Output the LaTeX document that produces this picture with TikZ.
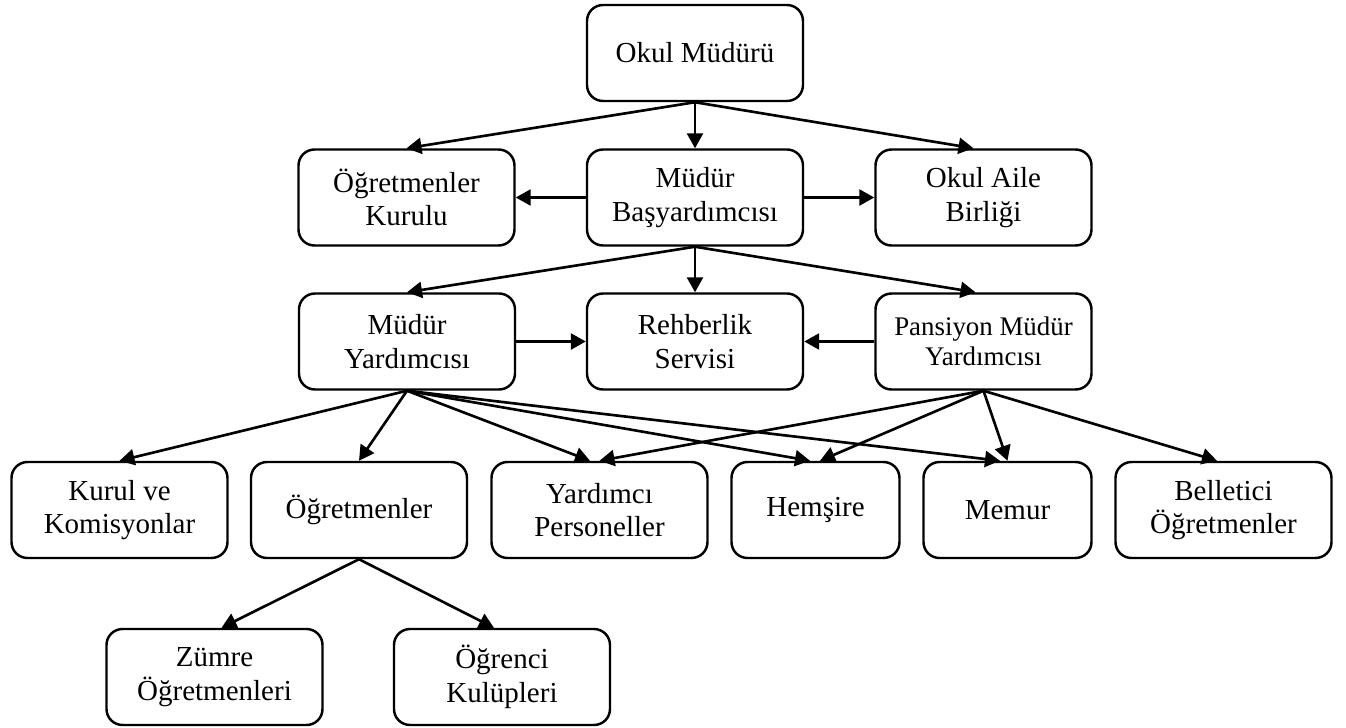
\documentclass[tikz,border=0pt]{standalone}
\usepackage{fontspec}
\setmainfont{Liberation Serif}
\usetikzlibrary{arrows.meta}

\begin{document}
\begin{tikzpicture}
	\tikzset{
		unit box/.style={rectangle, draw, line width=1.4pt, rounded corners=0.32cm, inner sep=0pt, minimum width=4.32cm, minimum height=1.92cm, align=center, font=\fontsize{16.5}{19}\selectfont},
		narrow box/.style={unit box, minimum width=3.36cm},
		small text/.style={font=\fontsize{15.3}{17.2}\selectfont},
		link/.style={-{Triangle[length=0.3cm, width=0.32cm]}, line width=1.5pt}
	}
	\useasboundingbox (0,0) rectangle (26.92,-14.54);
	% Top of the school
	\node (om) at (13.9,-1.06) [unit box] {Okul Müdürü};
	\node (ok) at (8.13,-3.95) [unit box] {Öğretmenler\\Kurulu};
	\node (mb) at (13.9,-3.95) [unit box] {Müdür\\Başyardımcısı};
	\node (oab) at (19.67,-3.95) [unit box] {Okul Aile\\Birliği};
	% Assistants
	\node (my) at (8.14,-6.83) [unit box] {Müdür\\Yardımcısı};
	\node (rs) at (13.9,-6.83) [unit box] {Rehberlik\\Servisi};
	\node (pmy) at (19.67,-6.83) [unit box, small text] {Pansiyon Müdür\\Yardımcısı};
	% Staff
	\node (kk) at (2.39,-10.2) [unit box] {Kurul ve\\Komisyonlar};
	\node (ogr) at (7.18,-10.2) [unit box] {Öğretmenler};
	\node (yp) at (11.99,-10.2) [unit box] {Yardımcı\\Personeller};
	\node (hem) at (16.31,-10.2) [narrow box] {Hemşire};
	\node (mem) at (20.15,-10.2) [narrow box] {Memur};
	\node (bel) at (24.47,-10.2) [unit box] {Belletici\\Öğretmenler};
	% Under the teachers
	\node (zum) at (4.29,-13.54) [unit box] {Zümre\\Öğretmenleri};
	\node (okl) at (10.04,-13.54) [unit box] {Öğrenci\\Kulüpleri};
	
	\foreach \a/\b/\s in {om/ok/0, om/mb/0, om/oab/-0.2, mb/my/0, mb/rs/0, mb/pmy/-0.16,
		my/kk/0, my/ogr/0, my/yp/-0.19, my/hem/-0.11, my/mem/-0.15,
		pmy/yp/0, pmy/hem/0.09, pmy/mem/0, pmy/bel/-0.13,
		ogr/zum/0.14, ogr/okl/-0.16} {
		\draw[link] (\a.south) -- ([xshift=\s cm]\b.north);
	}
	
	% Side links
	\draw[link] (mb) -- (ok);
	\draw[link] (mb) -- (oab);
	\draw[link] (my) -- (rs);
	\draw[link] (pmy) -- (rs);
\end{tikzpicture}
\end{document}
